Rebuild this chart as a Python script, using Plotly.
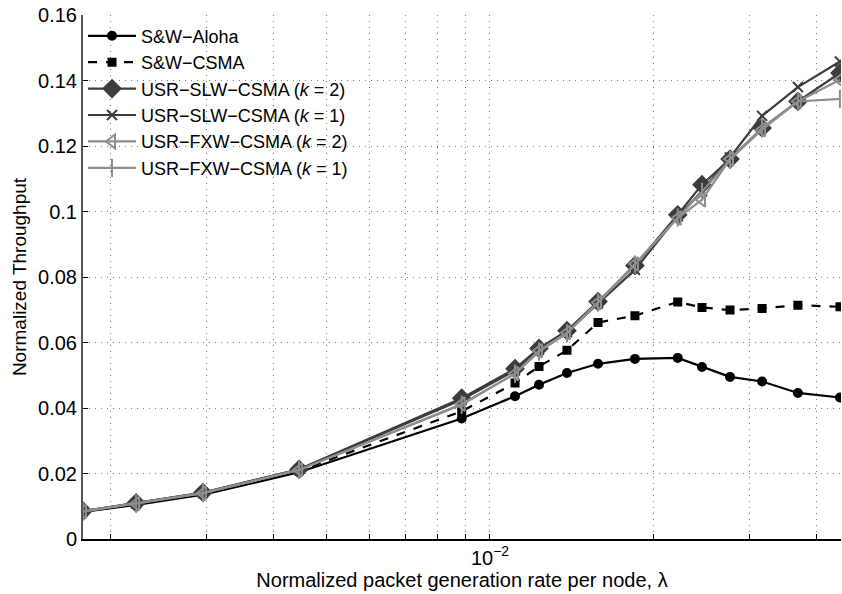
import plotly.graph_objects as go

# Normalized packet generation rate per node (lambda)
lam = [1.78e-3, 2.23e-3, 2.96e-3, 4.45e-3, 8.87e-3, 1.112e-2, 1.231e-2, 1.386e-2,
       1.581e-2, 1.849e-2, 2.217e-2, 2.457e-2, 2.767e-2, 3.17e-2, 3.69e-2, 4.41e-2]

sw_aloha = [0.0083, 0.0104, 0.0135, 0.0204, 0.0368, 0.0436, 0.0471, 0.0507,
            0.0535, 0.0550, 0.0553, 0.0525, 0.0495, 0.0481, 0.0446, 0.0432]
sw_csma = [0.0084, 0.0106, 0.0138, 0.0208, 0.0390, 0.0476, 0.0527, 0.0576,
           0.0661, 0.0682, 0.0724, 0.0707, 0.0699, 0.0704, 0.0714, 0.0709]
slw_k2 = [0.0085, 0.0110, 0.0142, 0.0213, 0.0430, 0.0520, 0.0582, 0.0636,
          0.0725, 0.0835, 0.0990, 0.1082, 0.1160, 0.1255, 0.1336, 0.1423]
slw_k1 = [0.0085, 0.0109, 0.0141, 0.0212, 0.0425, 0.0515, 0.0578, 0.0632,
          0.0720, 0.0822, 0.0985, 0.1062, 0.1165, 0.1292, 0.1380, 0.1458]
fxw_k2 = [0.0084, 0.0108, 0.0140, 0.0211, 0.0412, 0.0505, 0.0575, 0.0630,
          0.0722, 0.0840, 0.0980, 0.1036, 0.1160, 0.1250, 0.1336, 0.1402]
fxw_k1 = [0.0084, 0.0108, 0.0140, 0.0211, 0.0410, 0.0505, 0.0572, 0.0628,
          0.0722, 0.0838, 0.0982, 0.1060, 0.1158, 0.1255, 0.1336, 0.1344]

x_gridvals = [2e-3, 3e-3, 4e-3, 5e-3, 6e-3, 7e-3, 8e-3, 9e-3, 1e-2, 2e-2, 3e-2, 4e-2]
x_ticktext = [" ", " ", " ", " ", " ", " ", " ", " ", "10<sup>−2</sup>", " ", " ", " "]
y_ticks = [0, 0.02, 0.04, 0.06, 0.08, 0.1, 0.12, 0.14, 0.16]
y_ticktext = ["0", "0.02", "0.04", "0.06", "0.08", "0.1", "0.12", "0.14", "0.16"]

DARK = "#3c3c3c"
LIGHT = "#8e8e8e"

series = [
    ("S&W−Aloha", sw_aloha, "black", "solid", "circle", 8),
    ("S&W−CSMA", sw_csma, "black", "dash", "square", 7),
    ("USR−SLW−CSMA (<i>k</i> = 2)", slw_k2, DARK, "solid", "diamond", 13),
    ("USR−SLW−CSMA (<i>k</i> = 1)", slw_k1, DARK, "solid", "x-thin-open", 10),
    ("USR−FXW−CSMA (<i>k</i> = 2)", fxw_k2, LIGHT, "solid", "triangle-left-open", 12),
    ("USR−FXW−CSMA (<i>k</i> = 1)", fxw_k1, LIGHT, "solid", "line-ns-open", 13),
]

fig = go.Figure()
for name, ys, col, dash, sym, sz in series:
    fig.add_trace(go.Scatter(
        x=lam, y=ys, name=name, mode="lines+markers",
        line=dict(color=col, width=2.2, dash=dash),
        marker=dict(symbol=sym, size=sz, color=col,
                    line=dict(color=col, width=2)),
    ))

FS = 20
fig.update_layout(
    width=842, height=594,
    margin=dict(l=83, r=1, t=15, b=55),
    paper_bgcolor="white", plot_bgcolor="white",
    font=dict(family="Liberation Sans, Arial, sans-serif", size=FS, color="black"),
    showlegend=True,
    legend=dict(x=0.0, y=0.995, xanchor="left", yanchor="top",
                bgcolor="rgba(255,255,255,0)", borderwidth=0,
                font=dict(size=18), tracegroupgap=0, itemwidth=48),
    xaxis=dict(
        type="log",
        range=[-2.7495, -1.3536],
        tickmode="array", tickvals=x_gridvals, ticktext=x_ticktext,
        showgrid=True, gridcolor="#7a7a7a", griddash="1px,5px", gridwidth=1,
        ticks="inside", ticklen=5, tickcolor="black",
        showline=True, linecolor="black", linewidth=1.5,
        zeroline=False,
        title=dict(text="Normalized packet generation rate per node, λ",
                   font=dict(size=FS), standoff=0),
        tickfont=dict(size=FS),
    ),
    yaxis=dict(
        range=[0, 0.16],
        tickmode="array", tickvals=y_ticks, ticktext=y_ticktext,
        showgrid=True, gridcolor="#7a7a7a", griddash="1px,5px", gridwidth=1,
        ticks="inside", ticklen=5, tickcolor="black",
        showline=True, linecolor="#555555", linewidth=2,
        zeroline=False,
        title=dict(text="Normalized Throughput", font=dict(size=19), standoff=6),
        tickfont=dict(size=FS),
    ),
)

fig.write_html("out.html")
